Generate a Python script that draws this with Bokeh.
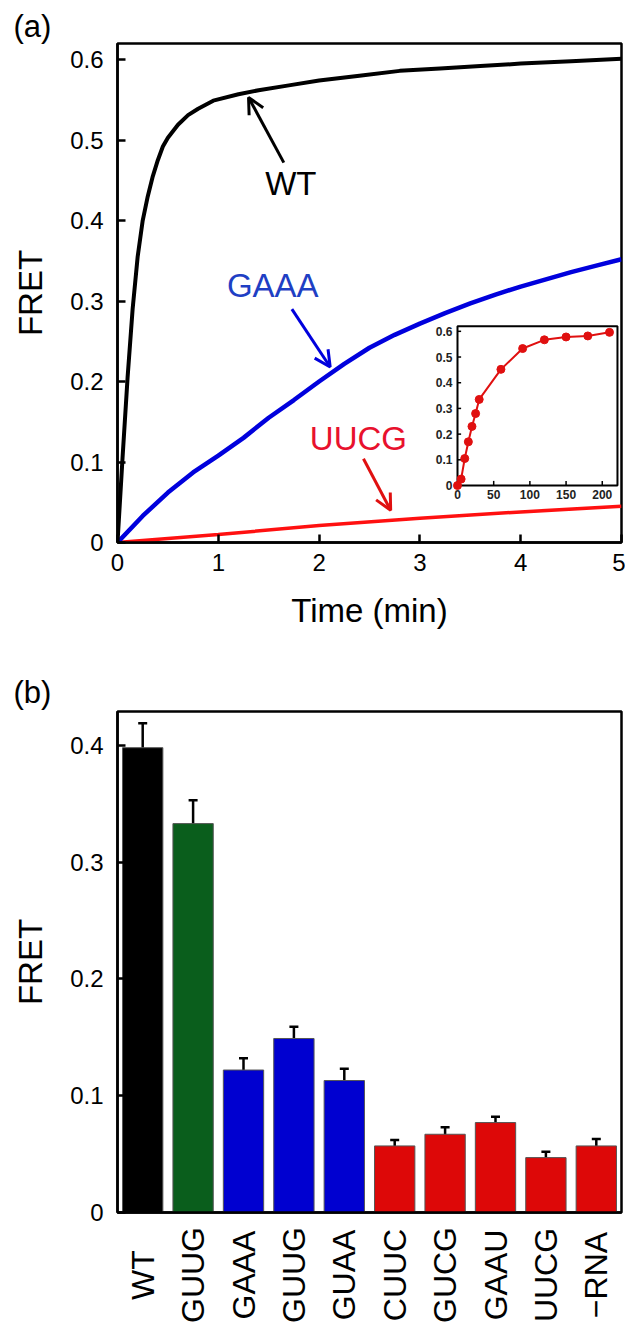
import numpy as np
from bokeh.plotting import figure
from bokeh.models import (Range1d, FixedTicker, CustomJSTickFormatter, Arrow,
                          OpenHead, Label, Whisker, TeeHead, ColumnDataSource, Title)
from bokeh.layouts import column
from bokeh.embed import file_html
from bokeh.resources import INLINE
from bokeh.core.properties import value

# ---------------- Panel (a): kinetics ----------------
wt_time = [0, 0.05, 0.1, 0.15, 0.2, 0.25, 0.3, 0.35, 0.4, 0.45, 0.5, 0.6, 0.7, 0.8, 0.95,
           1.2, 1.4, 1.7, 2.0, 2.4, 2.8, 3.2, 3.6, 4.0, 4.5, 5.0]
wt_fret = [0, 0.105, 0.205, 0.29, 0.355, 0.40, 0.43, 0.455, 0.475, 0.492, 0.503, 0.519, 0.531,
           0.539, 0.549, 0.557, 0.562, 0.568, 0.574, 0.580, 0.586, 0.589, 0.592, 0.595, 0.598, 0.601]
gaaa_time = [0, 0.25, 0.5, 0.75, 1.0, 1.25, 1.5, 1.75, 2.0, 2.25, 2.5, 2.75, 3.0, 3.25, 3.5,
             3.75, 4.0, 4.25, 4.5, 4.75, 5.0]
gaaa_fret = [0, 0.033, 0.062, 0.087, 0.108, 0.130, 0.155, 0.177, 0.200, 0.222, 0.242, 0.258,
             0.272, 0.285, 0.297, 0.308, 0.318, 0.327, 0.336, 0.344, 0.352]
uucg_time = [0, 1, 2, 3, 4, 5]
uucg_fret = [0, 0.010, 0.021, 0.030, 0.038, 0.045]

inset_time = [0, 5, 10, 15, 20, 25, 30, 60, 90, 120, 150, 180, 210]
inset_fret = [0, 0.025, 0.105, 0.17, 0.23, 0.28, 0.335, 0.452, 0.533, 0.567, 0.578, 0.582, 0.596]

time_ticks = [0, 1, 2, 3, 4, 5]
fret_ticks_a = [0, 0.1, 0.2, 0.3, 0.4, 0.5, 0.6]
inset_x_ticks = [0, 50, 100, 150, 200]
inset_y_ticks = [0, 0.1, 0.2, 0.3, 0.4, 0.5, 0.6]
inset_x_labels = ["0", "50", "100", "150", "200"]
inset_y_labels = ["0", "0.1", "0.2", "0.3", "0.4", "0.5", "0.6"]

# curve labels and their arrows (data coordinates of panel a)
curve_labels = ["WT", "GAAA", "UUCG"]
curve_label_colors = ["black", "#1f3fc4", "#e8112d"]
arrow_colors = ["black", "#0000dd", "#e01010"]
label_pos = [(1.72, 0.446), (1.54, 0.319), (2.39, 0.129)]
arrow_pos = [((1.65, 0.472), (1.30, 0.553)),
             ((1.73, 0.290), (2.11, 0.218)),
             ((2.44, 0.104), (2.71, 0.040))]

# ---------------- Panel (b): bars ----------------
mutants = ["WT", "GUUG", "GAAA", "GUUG", "GUAA", "CUUC", "GUCG", "GAAU", "UUCG", "\u2212RNA"]
fret_b = [0.398, 0.333, 0.122, 0.149, 0.113, 0.057, 0.067, 0.077, 0.047, 0.057]
fret_b_err = [0.021, 0.020, 0.010, 0.010, 0.010, 0.005, 0.006, 0.005, 0.005, 0.006]
bar_colors = ["#000000", "#0a5e1c", "#0000d0", "#0000d0", "#0000d0",
              "#dd0808", "#dd0808", "#dd0808", "#dd0808", "#dd0808"]
fret_ticks_b = [0, 0.1, 0.2, 0.3, 0.4]

FONT = "Liberation Sans"
fmt = CustomJSTickFormatter(code="return (Math.round(tick*10)/10).toString()")


def style_axis(ax, label_size="24px"):
    ax.axis_line_width = 2.5
    ax.minor_tick_line_color = None
    ax.major_label_text_font = FONT
    ax.major_label_text_font_size = label_size
    ax.major_label_text_color = "black"
    ax.axis_label_text_font = FONT
    ax.axis_label_text_font_size = "33px"
    ax.axis_label_text_font_style = "normal"
    ax.axis_label_text_color = "black"


# ---------- figure (a) ----------
p1 = figure(width=625, height=640, x_range=Range1d(0, 5), y_range=Range1d(0, 0.62),
            output_backend="svg", toolbar_location=None,
            min_border_left=117, min_border_right=4, min_border_top=43, min_border_bottom=98)
p1.title = Title(text="(a)", align="left", offset=-104, standoff=0, text_color="black",
                 text_font=FONT, text_font_size="31px", text_font_style="normal")
p1.grid.visible = False
p1.outline_line_color = "black"
p1.outline_line_width = 2.5
for ax in (p1.xaxis[0], p1.yaxis[0]):
    style_axis(ax)
    ax.major_tick_in = 8
    ax.major_tick_out = 0
    ax.major_tick_line_width = 2.5
p1.xaxis.ticker = FixedTicker(ticks=time_ticks)
p1.yaxis.ticker = FixedTicker(ticks=fret_ticks_a)
p1.yaxis.formatter = fmt
p1.xaxis.axis_label = "Time (min)"
p1.yaxis.axis_label = "FRET"
p1.xaxis.major_label_standoff = 11
p1.xaxis.axis_label_standoff = 18
p1.yaxis.major_label_standoff = 14
p1.yaxis.axis_label_standoff = 18

p1.line(uucg_time, uucg_fret, line_color="#ff1010", line_width=3.5)
p1.line(gaaa_time, gaaa_fret, line_color="#0000dd", line_width=4.5)
p1.line(wt_time, wt_fret, line_color="black", line_width=4)

for txt, col, acol, (lx, ly), ((xs, ys), (xe, ye)) in zip(curve_labels, curve_label_colors,
                                                        arrow_colors, label_pos, arrow_pos):
    p1.add_layout(Label(x=lx, y=ly, text=txt, text_color=col, text_font=FONT,
                        text_font_size="33px", text_align="center", text_baseline="middle"))
    p1.add_layout(Arrow(x_start=xs, y_start=ys, x_end=xe, y_end=ye, line_color=acol,
                        line_width=3, end=OpenHead(size=16, line_width=3, line_color=acol)))

# inset drawn with its own ranges inside panel (a)
ix0, ix1, iy0, iy1 = 0.0, 221.0, 0.0, 0.62
fl, fr, fb, ft = 0.6746, 0.992, 0.1142, 0.4335   # inset box as fractions of the frame
sx = (ix1 - ix0) / (fr - fl)
sy = (iy1 - iy0) / (ft - fb)
p1.extra_x_ranges = {"ix": Range1d(ix0 - fl * sx, ix1 + (1 - fr) * sx)}
p1.extra_y_ranges = {"iy": Range1d(iy0 - fb * sy, iy1 + (1 - ft) * sy)}
p1.quad(left=[ix0], right=[ix1], bottom=[iy0], top=[iy1], fill_color="white",
        line_color="black", line_width=2, x_range_name="ix", y_range_name="iy")
p1.segment(x0=inset_x_ticks, y0=[iy0] * 5, x1=inset_x_ticks, y1=[iy0 + 0.018] * 5,
           line_color="black", line_width=1.5, x_range_name="ix", y_range_name="iy")
p1.segment(x0=[ix0] * 7, y0=inset_y_ticks, x1=[ix0 + 5] * 7, y1=inset_y_ticks,
           line_color="black", line_width=1.5, x_range_name="ix", y_range_name="iy")
p1.text(x=inset_x_ticks, y=[iy0] * 5, text=inset_x_labels, x_range_name="ix", y_range_name="iy",
        text_font=value(FONT), text_font_style="bold", text_font_size="12px",
        text_align="center", text_baseline="top", y_offset=4, text_color="#222222")
p1.text(x=[ix0] * 7, y=inset_y_ticks, text=inset_y_labels, x_range_name="ix", y_range_name="iy",
        text_font=value(FONT), text_font_style="bold", text_font_size="12px",
        text_align="right", text_baseline="middle", x_offset=-5, text_color="#222222")
p1.line(inset_time, inset_fret, line_color="#e01010", line_width=2,
        x_range_name="ix", y_range_name="iy")
p1.scatter(inset_time, inset_fret, size=8, fill_color="#e01010", line_color="#e01010",
           x_range_name="ix", y_range_name="iy")

# ---------- figure (b) ----------
bar_x = [i + 0.5 for i in range(len(mutants))]
src = ColumnDataSource(dict(x=bar_x, top=fret_b, color=bar_colors, name=mutants,
                            upper=[v + e for v, e in zip(fret_b, fret_b_err)],
                            lower=[v - e for v, e in zip(fret_b, fret_b_err)]))
p2 = figure(width=625, height=586, x_range=Range1d(0, len(mutants)),
            y_range=Range1d(0, 0.429), output_backend="svg", toolbar_location=None,
            min_border_left=117, min_border_right=4, min_border_top=71, min_border_bottom=14)
p2.title = Title(text="(b)", align="left", offset=-104, standoff=3, text_color="black",
                 text_font=FONT, text_font_size="31px", text_font_style="normal")
p2.grid.visible = False
p2.outline_line_color = "black"
p2.outline_line_width = 2.5
p2.vbar(x="x", top="top", width=0.8, fill_color="color", line_color="#555555",
        line_width=1, source=src)
p2.add_layout(Whisker(source=src, base="x", upper="upper", lower="lower", line_width=2.5,
                      line_color="black",
                      upper_head=TeeHead(size=9, line_width=2.5, line_color="black"),
                      lower_head=TeeHead(size=9, line_width=2.5, line_color="black")))
style_axis(p2.xaxis[0])
style_axis(p2.yaxis[0])
p2.yaxis.major_tick_in = 8
p2.yaxis.major_tick_out = 0
p2.yaxis.major_tick_line_width = 2.5
p2.yaxis.ticker = FixedTicker(ticks=fret_ticks_b)
p2.yaxis.formatter = fmt
p2.yaxis.major_label_standoff = 14
p2.yaxis.axis_label = "FRET"
p2.yaxis.axis_label_standoff = 18
p2.xaxis.ticker = FixedTicker(ticks=[])
p2.xaxis.major_tick_line_color = None

# strip below panel (b) carrying the rotated, centred category names (shares x scale)
p3 = figure(width=625, height=97, x_range=p2.x_range, y_range=Range1d(0, 1),
            output_backend="svg", toolbar_location=None,
            x_axis_location=None, y_axis_location=None,
            min_border_left=117, min_border_right=4, min_border_top=0, min_border_bottom=0)
p3.grid.visible = False
p3.outline_line_color = None
p3.text(x="x", y=0.5, text="name", source=src, angle=np.pi / 2,
        text_font=value(FONT), text_font_size="32px", text_color="black",
        text_align="center", text_baseline="middle")

layout = column(p1, p2, p3)
open("out.html", "w").write(file_html(layout, INLINE))
